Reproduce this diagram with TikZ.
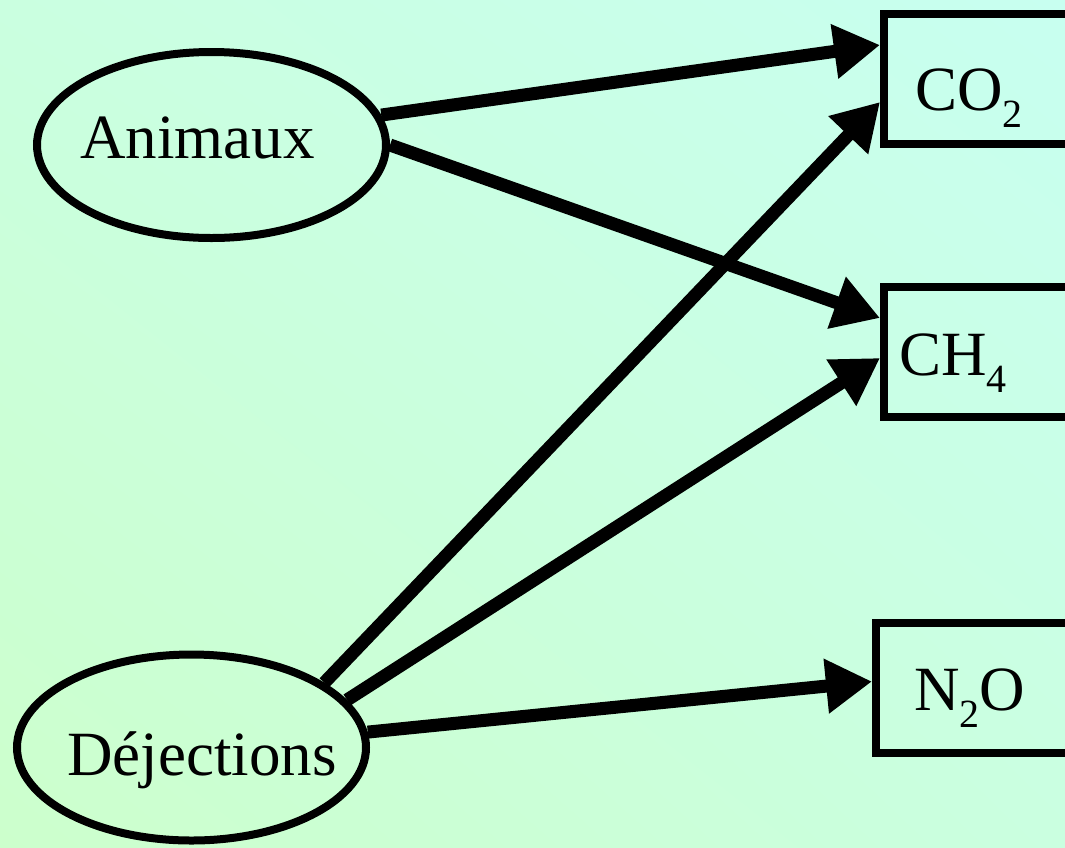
\documentclass[tikz,border=0pt]{standalone}
\usepackage{fontspec}
\setmainfont{Liberation Serif}
\usetikzlibrary{shapes,shadings,arrows.meta}

\definecolor{fondhaut}{RGB}{200,255,240}
\definecolor{fondbas}{RGB}{204,255,204}
\definecolor{fondmilieu}{RGB}{202,255,224}

\newcommand{\indice}[1]{\raisebox{-8.5pt}{\fontsize{20}{24}\selectfont #1}}

\tikzset{
  source/.style={ellipse, draw=black, line width=4pt, minimum width=174.5pt, minimum height=93pt, inner sep=0pt},
  gaz/.style={rectangle, draw=black, line width=4pt, anchor=west, minimum width=200pt, minimum height=65pt},
  texte/.style={anchor=base west, inner sep=0pt},
  fleche/.style={black, line width=6.5pt, -{Triangle[length=23pt,width=26pt]}}
}

\begin{document}
\begin{tikzpicture}[x=0.5pt,y=-0.5pt,font=\fontsize{31.5}{38}\selectfont]
\useasboundingbox (0,0) rectangle (1065,847);
\clip (0,0) rectangle (1065,847);
\shade[upper right=fondhaut, lower left=fondbas, upper left=fondmilieu, lower right=fondmilieu] (0,0) rectangle (1065,847);

% sources
\node[source] (anim) at (211.5,145) {};
\node[texte] (animtxt) at (80,158) {Animaux};
\node[source] (dej) at (191.5,747.5) {};
\node[texte] (dejtxt) at (67,775) {Déjections};

% gaz
\node[gaz] (co2) at (880,79) {};
\node[texte] (co2txt) at (915,110) {CO\indice{2}};
\node[gaz] (ch4) at (880,352) {};
\node[texte] (ch4txt) at (899,375) {CH\indice{4}};
\node[gaz] (n2o) at (872,687.5) {};
\node[texte] (n2otxt) at (914,710) {N\indice{2}O};

% emissions
\draw[fleche] (anim.10) -- ([yshift=17pt]co2.west);
\draw[fleche] (anim.east) -- ([yshift=17pt]ch4.west);
\draw[fleche] (dej.26) -- ([yshift=-11.5pt]co2.west);
\draw[fleche] (dej.17) -- ([yshift=-3pt]ch4.west);
\draw[fleche] (dej.5) -- ([yshift=3pt]n2o.west);
\end{tikzpicture}
\end{document}
